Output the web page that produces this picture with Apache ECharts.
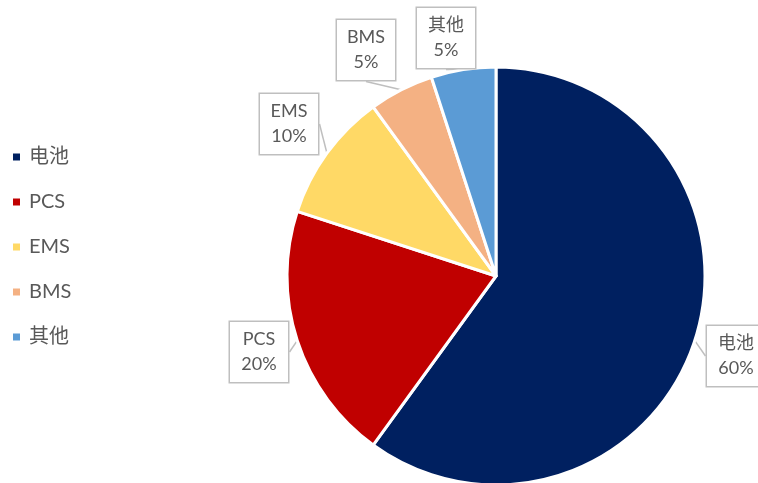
<!DOCTYPE html>
<html>
<head>
<meta charset="utf-8">
<script src="https://cdn.jsdelivr.net/npm/echarts@6/dist/echarts.min.js"></script>
<style>
  html, body { margin: 0; padding: 0; background: #fff; }
  #chart { width: 758px; height: 483px; }
</style>
</head>
<body>
<div id="chart"></div>
<script>
// Share of energy-storage system cost by component
const categories = ['电池', 'PCS', 'EMS', 'BMS', '其他'];
const shares = [60, 20, 10, 5, 5];
const colors = ['#002060', '#C00000', '#FFD966', '#F4B183', '#5B9BD5'];

// Centres of the callout boxes, one per slice
const calloutPos = [[736, 356], [259, 352], [289, 124], [366, 50], [446, 38]];

const fontFamily = 'Lato, "Noto Sans CJK SC", sans-serif';
const textColor = '#595959';

const chart = echarts.init(document.getElementById('chart'), null, { renderer: 'canvas' });

chart.setOption({
  animation: false,
  color: colors,
  legend: {
    orient: 'vertical',
    left: 6,
    top: 142,
    itemGap: 25,
    itemWidth: 9,
    itemHeight: 9,
    icon: 'rect',
    textStyle: { fontSize: 20, color: textColor, fontFamily: fontFamily, padding: [0, 0, 0, 3] },
    data: categories
  },
  series: [{
    type: 'pie',
    center: [496, 276],
    radius: 209,
    startAngle: 90,
    clockwise: true,
    itemStyle: { borderColor: '#fff', borderWidth: 3 },
    label: {
      show: true,
      position: 'outside',
      formatter: p => p.name + '\n' + p.value + '%',
      fontSize: 18,
      lineHeight: 25,
      color: textColor,
      fontFamily: fontFamily,
      backgroundColor: '#fff',
      borderColor: '#BFBFBF',
      borderWidth: 1.5,
      padding: [5, 9, 5, 9],
      align: 'center',
      overflow: 'none',
      width: 40
    },
    labelLine: {
      show: true,
      length: 8,
      length2: 0,
      lineStyle: { color: '#BFBFBF', width: 1.5 }
    },
    labelLayout: p => ({
      x: calloutPos[p.dataIndex][0],
      y: calloutPos[p.dataIndex][1],
      align: 'center',
      verticalAlign: 'middle'
    }),
    data: categories.map((c, i) => ({ name: c, value: shares[i] }))
  }]
});
</script>
</body>
</html>
